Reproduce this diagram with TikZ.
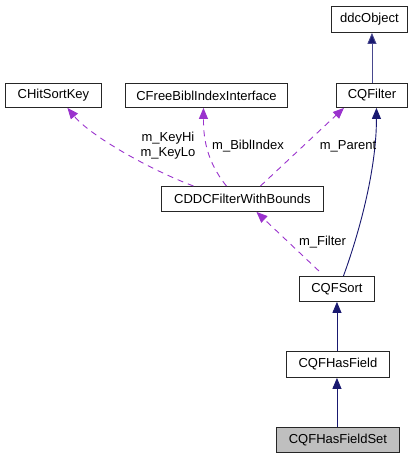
\documentclass[tikz,border=0pt]{standalone}
\usepackage{fontspec}
\setmainfont{Liberation Sans}
\usetikzlibrary{arrows.meta}
\definecolor{inh}{HTML}{191970}
\definecolor{usage}{HTML}{9A32CD}
\begin{document}
\begin{tikzpicture}[x=1pt,y=-1pt,
  cls/.style={draw=black!85,line width=0.9pt,rectangle,inner sep=0pt,font=\fontsize{13}{15}\selectfont,text=black,anchor=north west},
  inhedge/.style={draw=inh,line width=0.9pt,-{Triangle[length=11pt,width=9pt,fill=inh]}},
  useedge/.style={draw=usage,line width=0.9pt,dash pattern=on 6pt off 5pt,-{Triangle[length=11pt,width=9pt,fill=usage]}},
  lbl/.style={font=\fontsize{13}{15}\selectfont,inner sep=0pt,align=center}]
\useasboundingbox (0,0) rectangle (418,459);
\node[cls,minimum width=76pt,minimum height=26pt] (ddc) at (331,6) {ddcObject};
\node[cls,minimum width=71pt,minimum height=24pt] (cqf) at (336,83) {CQFilter};
\node[cls,minimum width=96pt,minimum height=24pt] (hsk) at (5,83) {CHitSortKey};
\node[cls,minimum width=162pt,minimum height=24pt] (fbi) at (125,83) {CFreeBiblIndexInterface};
\node[cls,minimum width=162pt,minimum height=25pt] (cddc) at (161,186) {CDDCFilterWithBounds};
\node[cls,minimum width=75pt,minimum height=25pt] (sort) at (299,276) {CQFSort};
\node[cls,minimum width=103pt,minimum height=26pt] (hf) at (286,351) {CQFHasField};
\node[cls,minimum width=123pt,minimum height=25pt,fill=black!25] (hfs) at (276,427) {CQFHasFieldSet};
% inheritance
\draw[inhedge,draw=inh!80] (cqf.north) -- (ddc.south -| cqf.north);
\draw[inhedge] ([xshift=6.5pt]sort.north) .. controls ([xshift=21.5pt,yshift=41pt]sort.north) and ([xshift=4.5pt,yshift=-63pt]cqf.south) .. ([xshift=4.5pt]cqf.south);
\draw[inhedge] (hf.north -| sort.south) -- (sort.south);
\draw[inhedge] (hfs.north -| sort.south) -- (hf.south -| sort.south);
% usage
\draw[useedge] ([xshift=-49pt]cddc.north) .. controls ([xshift=-92pt,yshift=16pt]cddc.north) and ([xshift=37pt,yshift=-28pt]hsk.south) .. ([xshift=14pt]hsk.south);
\draw[useedge] ([xshift=-16pt]cddc.north) .. controls ([xshift=-37pt,yshift=26pt]cddc.north) and ([xshift=-3pt,yshift=-28pt]fbi.south) .. ([xshift=-3pt]fbi.south);
\draw[useedge] ([xshift=18pt]cddc.north) -- ([xshift=-28pt]cqf.south);
\draw[useedge] ([xshift=-18pt,yshift=5pt]sort.north) -- ([xshift=14pt]cddc.south);
% labels
\node[lbl] (l1) at (168,146) {m\_KeyHi\\m\_KeyLo};
\node[lbl] (l2) at (248,146) {m\_BiblIndex};
\node[lbl] (l3) at (348,146) {m\_Parent};
\node[lbl] (l4) at (322.5,242) {m\_Filter};
\end{tikzpicture}
\end{document}
